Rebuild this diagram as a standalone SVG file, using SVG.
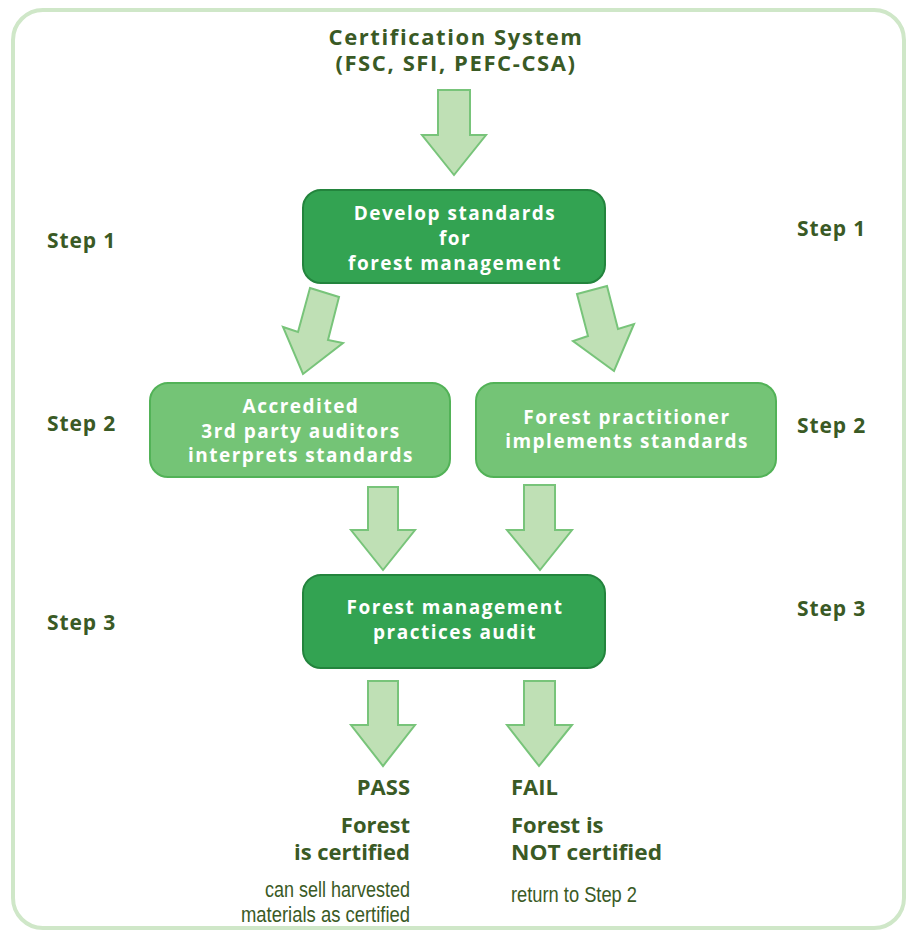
<svg xmlns="http://www.w3.org/2000/svg" width="908" height="932" viewBox="0 0 908 932">
<style>
.frame{fill:#fff;stroke:#cfe7c8;stroke-width:4}
.dark{fill:#33a352;stroke:#23843d;stroke-width:2}
.light{fill:#74c476;stroke:#52b257;stroke-width:2}
.arrow{fill:#bfe0b5;stroke:#78c47a;stroke-width:2;stroke-linejoin:miter}
.wt{font-family:"Open Sans","DejaVu Sans",sans-serif;font-weight:700;font-size:19px;fill:#fff;text-anchor:middle;letter-spacing:1.5px}
.hd{font-family:"Open Sans","DejaVu Sans",sans-serif;font-weight:700;font-size:22px;fill:#3a5a25;text-anchor:middle;letter-spacing:1.6px}
.step{font-family:"Open Sans","DejaVu Sans",sans-serif;font-weight:700;font-size:21px;fill:#3a5a25;letter-spacing:0.9px}
.res{font-family:"Open Sans","DejaVu Sans",sans-serif;font-weight:700;font-size:22px;fill:#3a5a25}
.sm{font-family:"Liberation Sans","DejaVu Sans",sans-serif;font-size:22px;fill:#3a5a25}
</style>
<rect class="frame" x="13" y="10" width="891" height="918" rx="30"/>
<g id="title">
<text class="hd" x="456" y="45">Certification System</text>
<text class="hd" x="456" y="71">(FSC, SFI, PEFC-CSA)</text>
</g>
<g id="connectors">
<polygon class="arrow" points="438,90 470,90 470,135 486,135 454,175 422,135 438,135"/>
<polygon class="arrow" points="310,288 339,297 328,340 343,343 303,374 283,327 298,332"/>
<polygon class="arrow" points="577,294 607,286 618,329 634,324 614,371 573,341 588,336"/>
<polygon class="arrow" points="368,487 398,487 398,530 415,530 383,570 351,530 368,530"/>
<polygon class="arrow" points="524,485 555,485 555,530 572,530 540,570 507,530 524,530"/>
<polygon class="arrow" points="368,681 398,681 398,725 415,725 383,766 351,725 368,725"/>
<polygon class="arrow" points="524,681 555,681 555,725 572,725 539,766 507,725 524,725"/>
</g>
<g id="develop">
<rect class="dark" x="303" y="190" width="302" height="93" rx="18"/>
<text class="wt" x="455" y="220">Develop standards</text>
<text class="wt" x="455" y="245">for</text>
<text class="wt" x="455" y="270">forest management</text>
</g>
<g id="auditors">
<rect class="light" x="150" y="383" width="300" height="94" rx="18"/>
<text class="wt" x="301" y="413">Accredited</text>
<text class="wt" x="301" y="438">3rd party auditors</text>
<text class="wt" x="301" y="462">interprets standards</text>
</g>
<g id="practitioner">
<rect class="light" x="476" y="383" width="300" height="94" rx="18"/>
<text class="wt" x="627" y="424">Forest practitioner</text>
<text class="wt" x="627" y="448">implements standards</text>
</g>
<g id="audit">
<rect class="dark" x="303" y="575" width="302" height="93" rx="18"/>
<text class="wt" x="455" y="614">Forest management</text>
<text class="wt" x="455" y="639">practices audit</text>
</g>
<g id="steps">
<text class="step" x="47" y="248">Step 1</text>
<text class="step" x="797" y="236">Step 1</text>
<text class="step" x="47" y="431">Step 2</text>
<text class="step" x="797" y="433">Step 2</text>
<text class="step" x="47" y="630">Step 3</text>
<text class="step" x="797" y="616">Step 3</text>
</g>
<g id="pass" text-anchor="end">
<text class="res" x="410" y="795">PASS</text>
<text class="res" x="410" y="833">Forest</text>
<text class="res" x="410" y="860">is certified</text>
<text class="sm" x="410" y="897" textLength="145" lengthAdjust="spacingAndGlyphs">can sell harvested</text>
<text class="sm" x="410" y="922" textLength="169" lengthAdjust="spacingAndGlyphs">materials as certified</text>
</g>
<g id="fail">
<text class="res" x="511" y="795">FAIL</text>
<text class="res" x="511" y="833">Forest is</text>
<text class="res" x="511" y="860" textLength="151" lengthAdjust="spacingAndGlyphs">NOT certified</text>
<text class="sm" x="511" y="902" textLength="126" lengthAdjust="spacingAndGlyphs">return to Step 2</text>
</g>
</svg>
